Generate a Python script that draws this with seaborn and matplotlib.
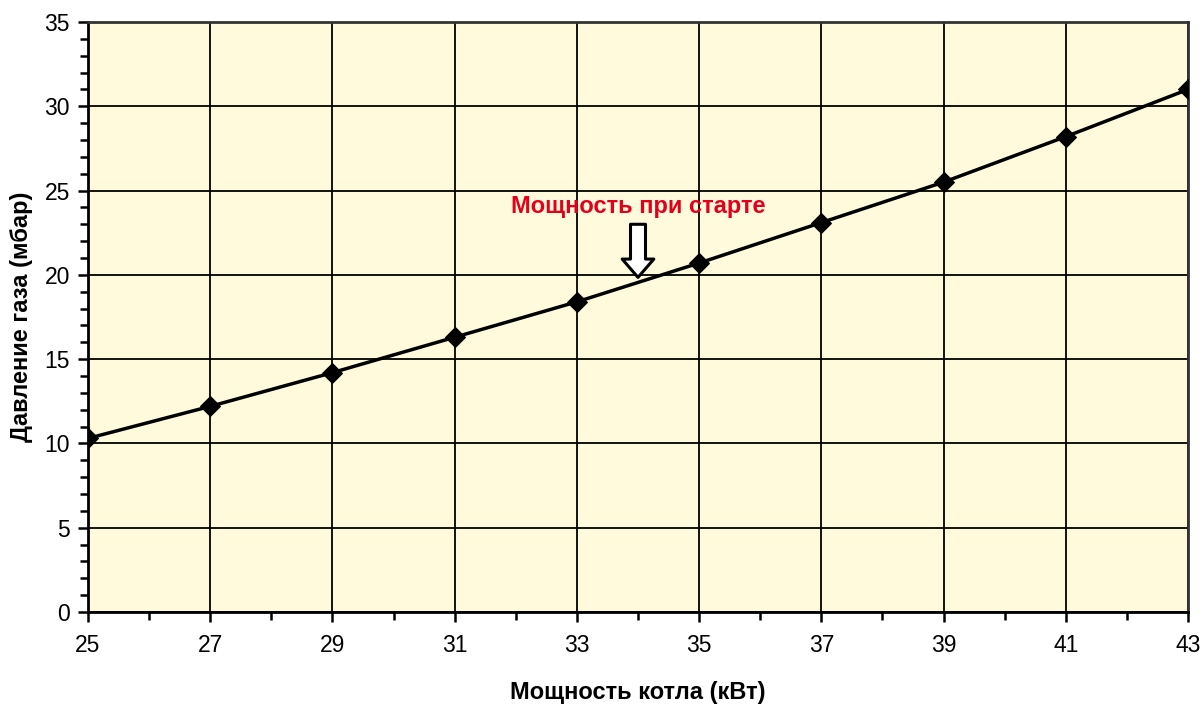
import matplotlib
matplotlib.use("Agg")
import matplotlib.pyplot as plt
import seaborn as sns
import pandas as pd
from matplotlib.ticker import MultipleLocator

power_kw = [25, 27, 29, 31, 33, 35, 37, 39, 41, 43]
pressure_mbar = [10.3, 12.2, 14.2, 16.3, 18.4, 20.7, 23.1, 25.5, 28.2, 31.0]
x_ticks = [25, 27, 29, 31, 33, 35, 37, 39, 41, 43]
y_ticks = [0, 5, 10, 15, 20, 25, 30, 35]

sns.set_theme(style="white")
plt.rcParams['font.family'] = ['Liberation Sans', 'DejaVu Sans']
plt.rcParams['text.color'] = 'black'
plt.rcParams['axes.labelcolor'] = 'black'

df = pd.DataFrame({"x": power_kw, "y": pressure_mbar})

fig = plt.figure(figsize=(12.03, 7.04), dpi=100)
ax = fig.add_axes([88/1203, 1-612/704, 1100/1203, 590/704])
ax.set_facecolor('#FFFADC')

sns.lineplot(data=df, x="x", y="y", ax=ax, color='black', linewidth=2.5,
             marker='D', markersize=10, markeredgecolor='black', markerfacecolor='black',
             zorder=5)

ax.set_xlim(25, 43)
ax.set_ylim(0, 35)
ax.set_xticks(x_ticks)
ax.set_yticks(y_ticks)
ax.xaxis.set_minor_locator(MultipleLocator(1))
ax.yaxis.set_minor_locator(MultipleLocator(1))
ax.grid(True, which='major', color='black', linewidth=1.3, zorder=1)
ax.set_axisbelow(True)
ax.tick_params(axis='both', which='major', direction='out', length=7, width=1.8,
               color='black', labelsize=16.5, labelcolor='black', pad=6)
ax.tick_params(axis='x', which='major', pad=9)
ax.tick_params(axis='both', which='minor', direction='out', length=6, width=1.8,
               color='black')
ax.tick_params(axis='x', which='both', bottom=True)
ax.tick_params(axis='y', which='both', left=True)
for s in ax.spines.values():
    s.set_color('black')
    s.set_linewidth(2)
ax.spines['top'].set_color('#333333')
ax.spines['right'].set_color('#333333')

ax.set_xlabel('Мощность котла (кВт)', fontsize=17, fontweight='bold', labelpad=17,
              color='black')
ax.set_ylabel('Давление газа (мбар)', fontsize=17, fontweight='bold', labelpad=8,
              color='black')

ax.annotate('', xy=(34, 19.85), xytext=(34, 23.0),
            arrowprops=dict(arrowstyle='simple,head_width=1.9,head_length=1.1,tail_width=0.9',
                            facecolor='white', edgecolor='black', linewidth=2.2, shrinkA=0, shrinkB=0),
            zorder=6)
ax.text(34.0, 23.4, 'Мощность при старте', color='#E3001B', fontsize=17,
        fontweight='bold', ha='center', va='bottom', zorder=7)

fig.savefig('out.png', dpi=100)
